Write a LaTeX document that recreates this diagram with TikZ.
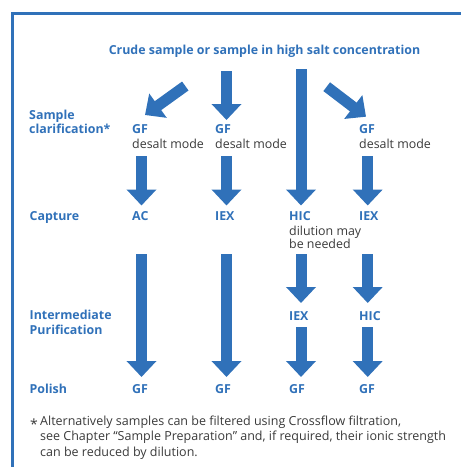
\documentclass[tikz,border=0pt]{standalone}
\usepackage{fontspec}
\setmainfont{Open Sans}
\usetikzlibrary{arrows.meta}
\definecolor{geblue}{HTML}{3071B9}
\definecolor{txtgray}{HTML}{3A3A3A}

\begin{document}
\begin{tikzpicture}[x=1pt, y=-1pt,
    every node/.style={inner sep=0pt, anchor=base west, font=\fontsize{12.4}{13.5}\selectfont},
    hd/.style={text=geblue, font=\fontsize{12.4}{13.5}\selectfont\bfseries},
    sub/.style={text=txtgray},
    bigarrow/.style={draw=geblue, line width=11pt, -{Triangle[width=29pt, length=16pt]}}]
    \useasboundingbox (0,0) rectangle (461,467);

    % --- frame (open at right and bottom) ---
    \draw[geblue, line width=3pt] (12.5,467) -- (12.5,13.5) -- (461,13.5);

    % --- title ---
    \node[hd, anchor=base] (crude) at (264.5,54) {Crude sample or sample in high salt concentration};

    % --- row labels ---
    \node[hd, align=left, anchor=west] (clarif) at (29,122) {Sample\\clarification*};
    \node[hd] (capture) at (29.5,220.7) {Capture};
    \node[hd, align=left, anchor=west] (interm) at (29.5,322.5) {Intermediate\\[1.5pt]Purification};
    \node[hd] (polish) at (29.5,393.3) {Polish};

    % --- sample clarification ---
    \node[hd] (gf1) at (132,133.5) {GF};
    \node[sub] (dm1) at (132,148.3) {desalt mode};
    \node[hd] (gf2) at (215,133.5) {GF};
    \node[sub] (dm2) at (215,148.3) {desalt mode};
    \node[hd] (gf4) at (359,133.5) {GF};
    \node[sub] (dm4) at (359,148.3) {desalt mode};

    % --- capture ---
    \node[hd] (ac) at (132,220.7) {AC};
    \node[hd] (iex2) at (215,220.7) {IEX};
    \node[hd] (hic3) at (289,220.7) {HIC};
    \node[hd] (iex4) at (359,220.7) {IEX};
    \node[sub, align=left, anchor=north west] (dil) at (289,225.5) {dilution may\\be needed};

    % --- intermediate purification ---
    \node[hd] (iex3) at (289,320) {IEX};
    \node[hd] (hic4) at (359,320) {HIC};

    % --- polish ---
    \node[hd] (gfp1) at (132,393.3) {GF};
    \node[hd] (gfp2) at (215,393.3) {GF};
    \node[hd] (gfp3) at (289,393.3) {GF};
    \node[hd] (gfp4) at (359,393.3) {GF};

    % --- arrow ends ---
    \coordinate (a1s) at (185.3,86);   \coordinate (a1e) at (145,115);
    \coordinate (a2s) at (226.5,71);   \coordinate (a2e) at (226.5,120);
    \coordinate (a3s) at (301,69);     \coordinate (a3e) at (301,205.5);
    \coordinate (a4s) at (326.7,86.7); \coordinate (a4e) at (366,116.7);
    \coordinate (b1s) at (141.5,156);  \coordinate (b1e) at (141.5,205.5);
    \coordinate (b2s) at (226.5,156);  \coordinate (b2e) at (226.5,205.5);
    \coordinate (b4s) at (367.7,156);  \coordinate (b4e) at (367.7,205.5);
    \coordinate (c1s) at (141.5,254);  \coordinate (c1e) at (141.5,377);
    \coordinate (c2s) at (226.5,254);  \coordinate (c2e) at (226.5,377);
    \coordinate (c3s) at (301,254);    \coordinate (c3e) at (301,303);
    \coordinate (c4s) at (367.7,254);  \coordinate (c4e) at (367.7,303);
    \coordinate (d3s) at (301,327);    \coordinate (d3e) at (301,377);
    \coordinate (d4s) at (367.7,327);  \coordinate (d4e) at (367.7,377);

    % --- arrows ---
    \draw[bigarrow] (a1s) -- (a1e);
    \draw[bigarrow] (a2s) -- (a2e);
    \draw[bigarrow] (a3s) -- (a3e);
    \draw[bigarrow] (a4s) -- (a4e);
    \draw[bigarrow] (b1s) -- (b1e);
    \draw[bigarrow] (b2s) -- (b2e);
    \draw[bigarrow] (b4s) -- (b4e);
    \draw[bigarrow] (c1s) -- (c1e);
    \draw[bigarrow] (c2s) -- (c2e);
    \draw[bigarrow] (c3s) -- (c3e);
    \draw[bigarrow] (c4s) -- (c4e);
    \draw[bigarrow] (d3s) -- (d3e);
    \draw[bigarrow] (d4s) -- (d4e);

    % --- footnote ---
    \node[sub, font=\fontsize{14}{15.7}\selectfont] (star) at (30,429) {*};
    \node[sub, font=\fontsize{12.5}{15.7}\selectfont, align=left, anchor=north west] (note) at (40,415.5)
        {Alternatively samples can be filtered using Crossflow filtration,\\
         see Chapter “Sample Preparation” and, if required, their ionic strength\\
         can be reduced by dilution.};
\end{tikzpicture}
\end{document}
